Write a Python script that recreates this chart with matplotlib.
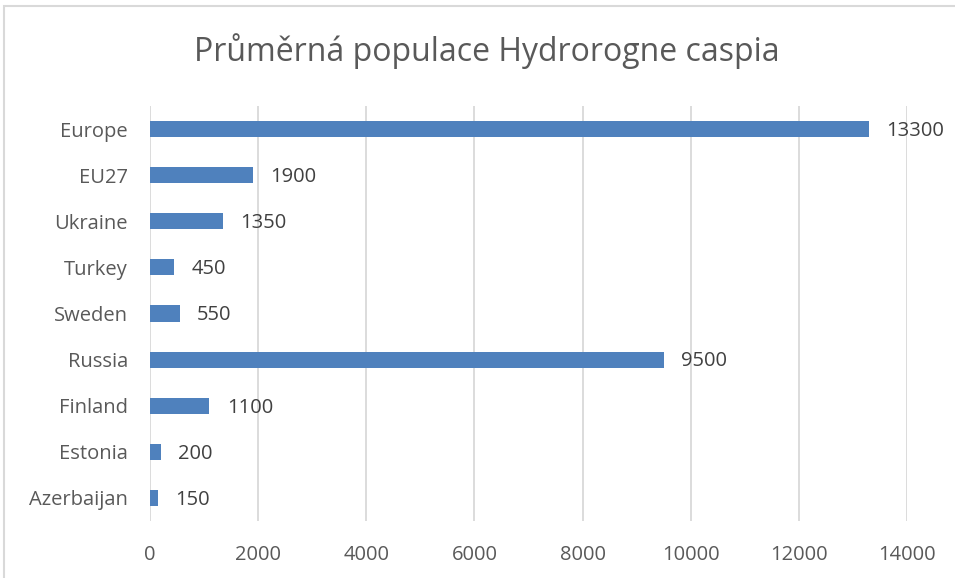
import matplotlib.pyplot as plt
from matplotlib.patches import Rectangle

categories = ["Azerbaijan", "Estonia", "Finland", "Russia", "Sweden",
              "Turkey", "Ukraine", "EU27", "Europe"]
values = [150, 200, 1100, 9500, 550, 450, 1350, 1900, 13300]
xticks = [0, 2000, 4000, 6000, 8000, 10000, 12000, 14000]

plt.rcParams['font.family'] = ['Open Sans', 'DejaVu Sans']
text_color = '#595959'
grid_color = '#d9d9d9'

fig = plt.figure(figsize=(9.55, 5.78), dpi=100)
ax = fig.add_axes([150 / 955, 1 - 521 / 578, 757 / 955, 415 / 578])

# outer chart frame (cut off at right and bottom)
fig.patches.append(Rectangle((4 / 955, -0.1), 1.2, 1 - 6 / 578 + 0.1,
                             transform=fig.transFigure, fill=False,
                             edgecolor=grid_color, linewidth=1.5))

ypos = range(len(categories))
ax.barh(ypos, values, height=0.35, color='#4f81bd', zorder=3)
for y, v in zip(ypos, values):
    ax.text(v + 320, y - 0.04, str(v), va='center', ha='left',
            fontsize=14.5, color='#404040')

ax.set_xlim(0, 14000)
ax.set_ylim(-0.5, len(categories) - 0.5)
ax.set_xticks(xticks)
ax.set_xticklabels([str(t) for t in xticks])
ax.set_yticks(list(ypos))
ax.set_yticklabels(categories)
ax.tick_params(axis='both', length=0, colors=text_color, labelsize=14.5)
ax.tick_params(axis='x', pad=17)
ax.tick_params(axis='y', pad=16)
ax.grid(axis='x', color=grid_color, linewidth=1.3, zorder=0)
for s in ax.spines.values():
    s.set_visible(False)

fig.text(487 / 955, 1 - 51 / 578, "Průměrná populace Hydrorogne caspia",
         ha='center', va='center', fontsize=23, color=text_color)

fig.savefig("out.png", dpi=100)
